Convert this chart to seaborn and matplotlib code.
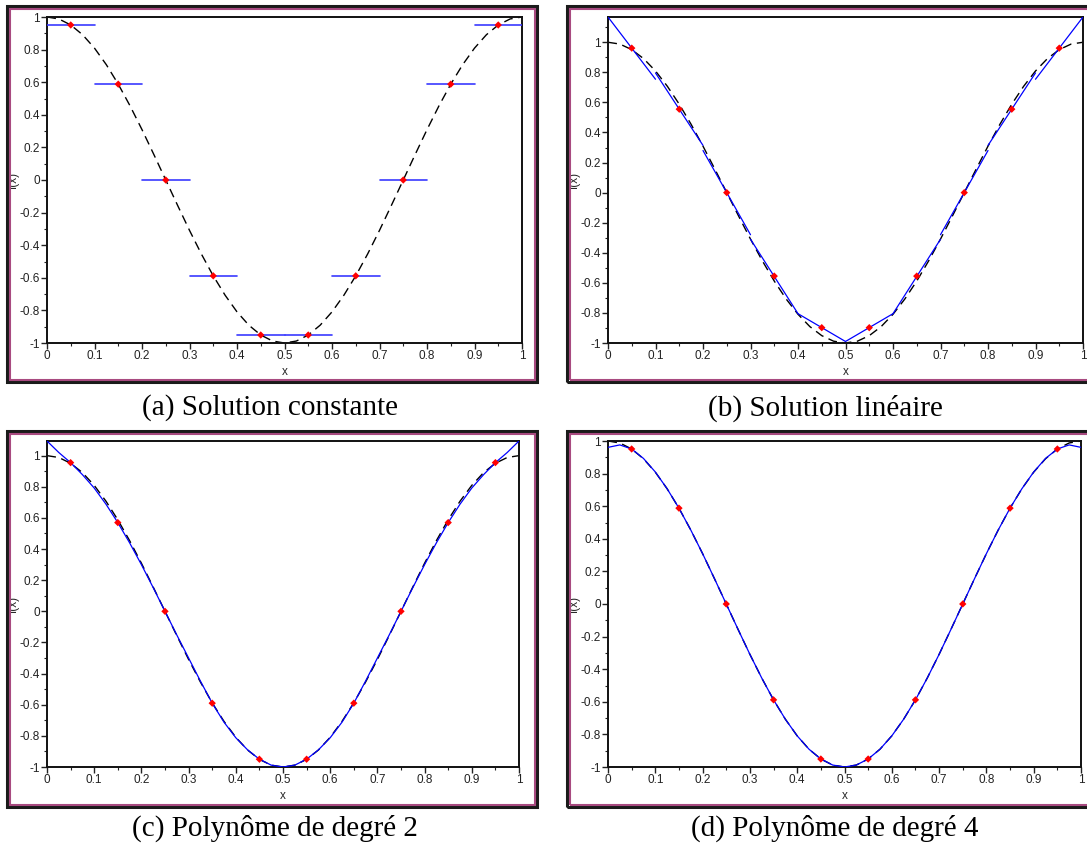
import numpy as np
import pandas as pd
import seaborn as sns
import matplotlib.pyplot as plt
from matplotlib.patches import Rectangle
from matplotlib.ticker import MultipleLocator, FuncFormatter

# sample grid and reference function f(x) (dashed)
x_grid = [i * 0.025 for i in range(41)]
ref_y = [1.000, 0.988, 0.951, 0.891, 0.809, 0.707, 0.588, 0.454, 0.309, 0.156,
         0.000, -0.156, -0.309, -0.454, -0.588, -0.707, -0.809, -0.891, -0.951, -0.988,
         -1.000, -0.988, -0.951, -0.891, -0.809, -0.707, -0.588, -0.454, -0.309, -0.156,
         0.000, 0.156, 0.309, 0.454, 0.588, 0.707, 0.809, 0.891, 0.951, 0.988, 1.000]

# cells
cell_left = [0.0, 0.1, 0.2, 0.3, 0.4, 0.5, 0.6, 0.7, 0.8, 0.9]
cell_right = [0.1, 0.2, 0.3, 0.4, 0.5, 0.6, 0.7, 0.8, 0.9, 1.0]
cell_mid = [0.05, 0.15, 0.25, 0.35, 0.45, 0.55, 0.65, 0.75, 0.85, 0.95]

# (a) constant solution
const_vals = [0.951, 0.588, 0.0, -0.588, -0.951, -0.951, -0.588, 0.0, 0.588, 0.951]

# (b) linear solution, value at both ends of each cell
lin_left = [1.168, 0.796, 0.28, -0.31, -0.805, -0.99, -0.805, -0.28, 0.314, 0.754]
lin_right = [0.754, 0.314, -0.28, -0.805, -0.99, -0.805, -0.31, 0.28, 0.796, 1.168]
lin_dots = [0.961, 0.555, 0.0, -0.555, -0.898, -0.898, -0.555, 0.0, 0.555, 0.961]

# (c) degree 2
deg2_y = [1.094, 1.020, 0.955, 0.878, 0.792, 0.688, 0.570, 0.440, 0.300, 0.152,
          0.000, -0.152, -0.300, -0.448, -0.590, -0.712, -0.812, -0.890, -0.950, -0.988,
          -1.000, -0.988, -0.950, -0.890, -0.812, -0.712, -0.590, -0.448, -0.300, -0.152,
          0.000, 0.152, 0.300, 0.440, 0.570, 0.688, 0.792, 0.878, 0.955, 1.020, 1.094]
deg2_dots = [0.955, 0.57, 0.0, -0.59, -0.95, -0.95, -0.59, 0.0, 0.57, 0.955]

# (d) degree 4
deg4_y = [0.961, 0.976, 0.951, 0.893, 0.810, 0.707, 0.588, 0.454, 0.309, 0.156,
          0.000, -0.156, -0.309, -0.454, -0.588, -0.707, -0.809, -0.891, -0.951, -0.988,
          -1.000, -0.988, -0.951, -0.891, -0.809, -0.707, -0.588, -0.454, -0.309, -0.156,
          0.000, 0.156, 0.309, 0.454, 0.588, 0.707, 0.810, 0.893, 0.951, 0.976, 0.961]
deg4_dots = [0.951, 0.588, 0.0, -0.588, -0.951, -0.951, -0.588, 0.0, 0.588, 0.951]

captions = ['(a) Solution constante', '(b) Solution linéaire',
            '(c) Polynôme de degré 2', '(d) Polynôme de degré 4']

sns.set_theme(style='white')
plt.rcParams['font.family'] = ['Liberation Sans', 'DejaVu Sans']
plt.rcParams['axes.unicode_minus'] = False

W, H = 1087, 850
fig = plt.figure(figsize=(W / 100, H / 100), dpi=100)


def px_axes(l, t, r, b):
  return fig.add_axes([l / W, 1 - b / H, (r - l) / W, (b - t) / H])


def frame(l, t, r, b):
  fig.patches.append(Rectangle((l / W, 1 - b / H), (r - l) / W, (b - t) / H,
                               transform=fig.transFigure, fill=False,
                               edgecolor='#1a1a1a', linewidth=2.2, zorder=0))
  fig.patches.append(Rectangle(((l + 2.5) / W, 1 - (b - 2.5) / H), (r - l - 5) / W,
                               (b - t - 5) / H, transform=fig.transFigure, fill=False,
                               edgecolor='#a84a80', linewidth=1.5, zorder=0))


def style_axes(ax, ytop):
  ax.set_xlim(0, 1)
  ax.set_ylim(-1, ytop)
  ax.xaxis.set_major_locator(MultipleLocator(0.1))
  ax.xaxis.set_minor_locator(MultipleLocator(0.05))
  ax.yaxis.set_major_locator(MultipleLocator(0.2))
  ax.yaxis.set_minor_locator(MultipleLocator(0.1))
  fmt = FuncFormatter(lambda v, p: f'{round(v, 2):g}')
  ax.xaxis.set_major_formatter(fmt)
  ax.yaxis.set_major_formatter(fmt)
  ax.tick_params(axis='both', which='major', direction='out', length=4, width=1,
                 labelsize=8.5, pad=1.2, bottom=True, left=True, colors='#222222')
  ax.tick_params(axis='both', which='minor', direction='out', length=2.5, width=0.8,
                 bottom=True, left=True, color='#222222')
  for s in ax.spines.values():
    s.set_color('#111111')
    s.set_linewidth(1.4)
  ax.set_xlabel('x', fontsize=8.5)
  ax.set_ylabel('f(x)', fontsize=8.5)
  ax.xaxis.set_label_coords(0.5, -0.072)
  ax.yaxis.set_label_coords(-0.058, 0.5)


ref_df = pd.DataFrame({'x': x_grid, 'y': ref_y})


def draw_ref(ax):
  sns.lineplot(data=ref_df, x='x', y='y', ax=ax, color='black', linewidth=1.0,
               linestyle=(0, (6.5, 4)), zorder=2)


def draw_dots(ax, vals):
  sns.scatterplot(x=cell_mid, y=vals, ax=ax, color='red', s=14, marker='D',
                  edgecolor='none', zorder=5)


# panel positions (px)
panels = [(47, 17, 522, 343), (608, 17, 1083, 343),
          (47, 441, 519, 767), (608, 441, 1081, 767)]
frames = [(7, 6, 537, 382), (567, 6, 1100, 382),
          (7, 431, 537, 807), (567, 431, 1100, 807)]
cap_pos = [(270, 408), (825, 408), (275, 828), (835, 828)]
ytops = [1.0, 1.168, 1.094, 1.0]

for fr in frames:
  frame(*fr)

axes = [px_axes(*p) for p in panels]

# (a)
ax = axes[0]
draw_ref(ax)
seg_a = pd.DataFrame({
  'x': cell_left + cell_right,
  'y': const_vals + const_vals,
  'seg': list(range(10)) * 2,
})
sns.lineplot(data=seg_a, x='x', y='y', units='seg', estimator=None, ax=ax,
             color='#3a3aff', linewidth=1.2, zorder=3)
draw_dots(ax, const_vals)

# (b)
ax = axes[1]
draw_ref(ax)
seg_b = pd.DataFrame({
  'x': cell_left + cell_right,
  'y': lin_left + lin_right,
  'seg': list(range(10)) * 2,
})
sns.lineplot(data=seg_b, x='x', y='y', units='seg', estimator=None, ax=ax,
             color='blue', linewidth=0.9, zorder=3)
draw_dots(ax, lin_dots)

# (c)
ax = axes[2]
draw_ref(ax)
sns.lineplot(x=x_grid, y=deg2_y, ax=ax, color='blue', linewidth=0.9, zorder=3)
draw_dots(ax, deg2_dots)

# (d)
ax = axes[3]
draw_ref(ax)
sns.lineplot(x=x_grid, y=deg4_y, ax=ax, color='blue', linewidth=0.9, zorder=3)
draw_dots(ax, deg4_dots)

for ax, yt in zip(axes, ytops):
  style_axes(ax, yt)

for (cx, cy), txt in zip(cap_pos, captions):
  fig.text(cx / W, 1 - cy / H, txt, ha='center', va='center', fontsize=21,
           family=['Liberation Serif', 'DejaVu Serif'], color='black')

fig.savefig('out.png', dpi=100)
